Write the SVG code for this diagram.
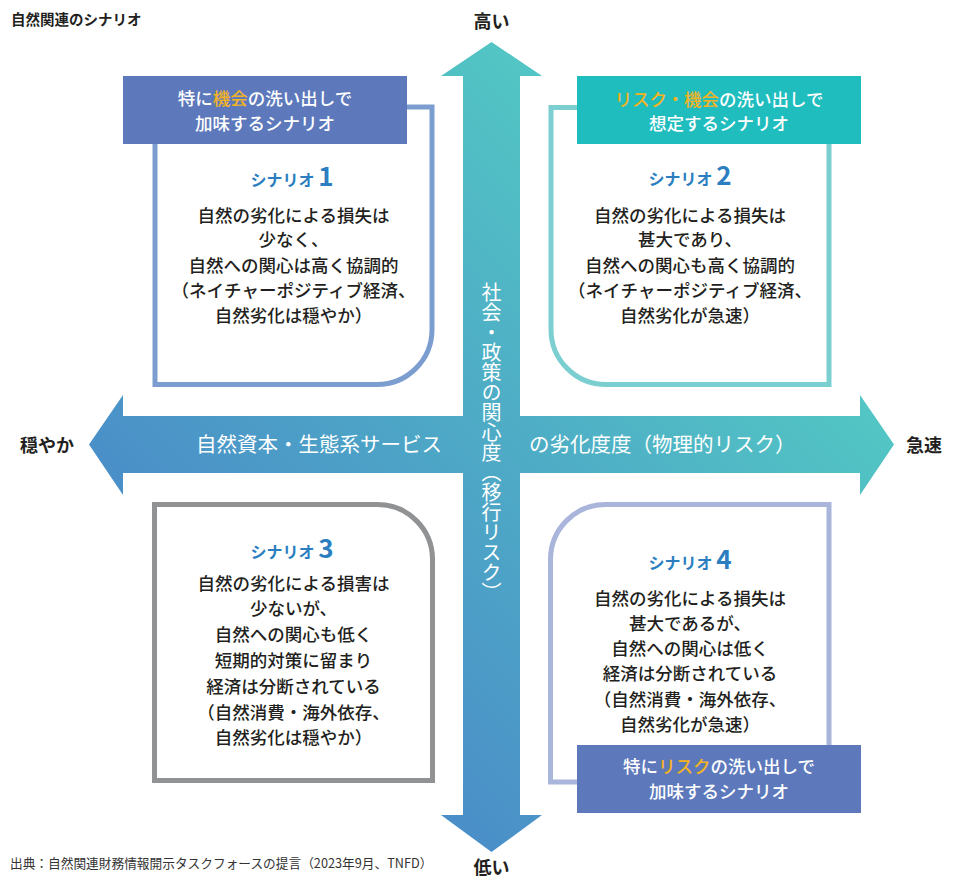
<svg xmlns="http://www.w3.org/2000/svg" width="969" height="881" viewBox="0 0 969 881">
<defs>
<linearGradient id="axisGrad" gradientUnits="userSpaceOnUse" x1="0" y1="360" x2="405" y2="-45">
<stop offset="0" stop-color="#4a8fc8"/>
<stop offset="1" stop-color="#52c5c4"/>
</linearGradient>
<style>
text{font-family:"Noto Sans CJK JP","Noto Sans",sans-serif;}
.title{font-size:14.5px;font-weight:bold;fill:#231f20;}
.pole{font-size:18px;font-weight:bold;fill:#231f20;}
.axis{font-size:20.5px;fill:#ffffff;}
.vaxis{font-size:20px;fill:#ffffff;writing-mode:vertical-rl;}
.lbl{font-size:17.5px;font-weight:500;fill:#ffffff;text-anchor:middle;}
.hl{fill:#f5b41f;}
.body{font-size:17.5px;font-weight:500;fill:#231f20;text-anchor:middle;}
.sc{font-size:16px;font-weight:bold;fill:#2b7fc1;text-anchor:middle;}
.num{font-size:26px;font-weight:bold;}
.box{fill:#ffffff;stroke-width:5;}
.note{font-size:12.7px;fill:#333333;}
</style>
</defs>
<rect width="969" height="881" fill="#ffffff"/>
<text class="title" x="11" y="25">自然関連のシナリオ</text>

<g id="connectors">
<path id="axes" fill="url(#axisGrad)" d="M491.5,42 L542,76 L520,76 L520,416 L860,416 L860,395 L894,444.5 L860,495 L860,473 L520,473 L520,815 L542,815 L491.5,852 L441,815 L463,815 L463,473 L123,473 L123,495 L89,444.5 L123,395 L123,416 L463,416 L463,76 L441,76 Z"/>
<text class="axis" x="196" y="451.5">自然資本・生態系サービス</text>
<text class="axis" x="529" y="451.5">の劣化度度（物理的リスク）</text>
<text class="vaxis" x="491.5" y="282">社会・政策の関心度（移行リスク）</text>
</g>

<text class="pole" x="491.5" y="28" text-anchor="middle">高い</text>
<text class="pole" x="491.5" y="874" text-anchor="middle">低い</text>
<text class="pole" x="20" y="452">穏やか</text>
<text class="pole" x="906" y="452">急速</text>

<g id="scenario1">
<path class="box" stroke="#7c9dd0" d="M155,107 H432 V329.5 A55,55 0 0 1 377,384.5 H155 Z"/>
<rect x="123" y="76" width="284" height="68" fill="#5d79bc"/>
<text class="lbl" x="265" y="104.5">特に<tspan class="hl">機会</tspan>の洗い出しで</text>
<text class="lbl" x="265" y="129.5">加味するシナリオ</text>
<text class="sc" x="292" y="186">シナリオ <tspan class="num">1</tspan></text>
<text class="body" x="293.5" y="221.5">自然の劣化による損失は</text>
<text class="body" x="293.5" y="246">少なく、</text>
<text class="body" x="293.5" y="272">自然への関心は高く協調的</text>
<text class="body" x="293.5" y="297">（ネイチャーポジティブ経済、</text>
<text class="body" x="293.5" y="322">自然劣化は穏やか）</text>
</g>

<g id="scenario2">
<path class="box" stroke="#7ccfd0" d="M551,107.5 H829 V384.5 H606 A55,55 0 0 1 551,329.5 Z"/>
<rect x="577" y="76" width="284" height="68" fill="#20bdbf"/>
<text class="lbl" x="719" y="105.5"><tspan class="hl">リスク・機会</tspan>の洗い出しで</text>
<text class="lbl" x="719" y="130">想定するシナリオ</text>
<text class="sc" x="690" y="185">シナリオ <tspan class="num">2</tspan></text>
<text class="body" x="690" y="221.5">自然の劣化による損失は</text>
<text class="body" x="690" y="246">甚大であり、</text>
<text class="body" x="690" y="272">自然への関心も高く協調的</text>
<text class="body" x="690" y="297">（ネイチャーポジティブ経済、</text>
<text class="body" x="690" y="322">自然劣化が急速）</text>
</g>

<g id="scenario3">
<path class="box" stroke="#909294" d="M154.5,504.5 H377.5 A55,55 0 0 1 432.5,559.5 V780.5 H154.5 Z"/>
<text class="sc" x="292" y="558">シナリオ <tspan class="num">3</tspan></text>
<text class="body" x="293.5" y="589.5">自然の劣化による損害は</text>
<text class="body" x="293.5" y="615.3">少ないが、</text>
<text class="body" x="293.5" y="641.1">自然への関心も低く</text>
<text class="body" x="293.5" y="666.9">短期的対策に留まり</text>
<text class="body" x="293.5" y="692.7">経済は分断されている</text>
<text class="body" x="293.5" y="718.5">（自然消費・海外依存、</text>
<text class="body" x="293.5" y="744.3">自然劣化は穏やか）</text>
</g>

<g id="scenario4">
<path class="box" stroke="#a9b5da" d="M605.5,504.5 H829 V782 H550.5 V559.5 A55,55 0 0 1 605.5,504.5 Z"/>
<text class="sc" x="690" y="569">シナリオ <tspan class="num">4</tspan></text>
<text class="body" x="690" y="604.5">自然の劣化による損失は</text>
<text class="body" x="690" y="630">甚大であるが、</text>
<text class="body" x="690" y="655">自然への関心は低く</text>
<text class="body" x="690" y="680">経済は分断されている</text>
<text class="body" x="690" y="705.5">（自然消費・海外依存、</text>
<text class="body" x="690" y="730.5">自然劣化が急速）</text>
<rect x="577" y="745" width="284" height="68" fill="#5d79bc"/>
<text class="lbl" x="719" y="773">特に<tspan class="hl">リスク</tspan>の洗い出しで</text>
<text class="lbl" x="719" y="798">加味するシナリオ</text>
</g>

<text class="note" x="10" y="868">出典：自然関連財務情報開示タスクフォースの提言（2023年9月、TNFD）</text>
</svg>
